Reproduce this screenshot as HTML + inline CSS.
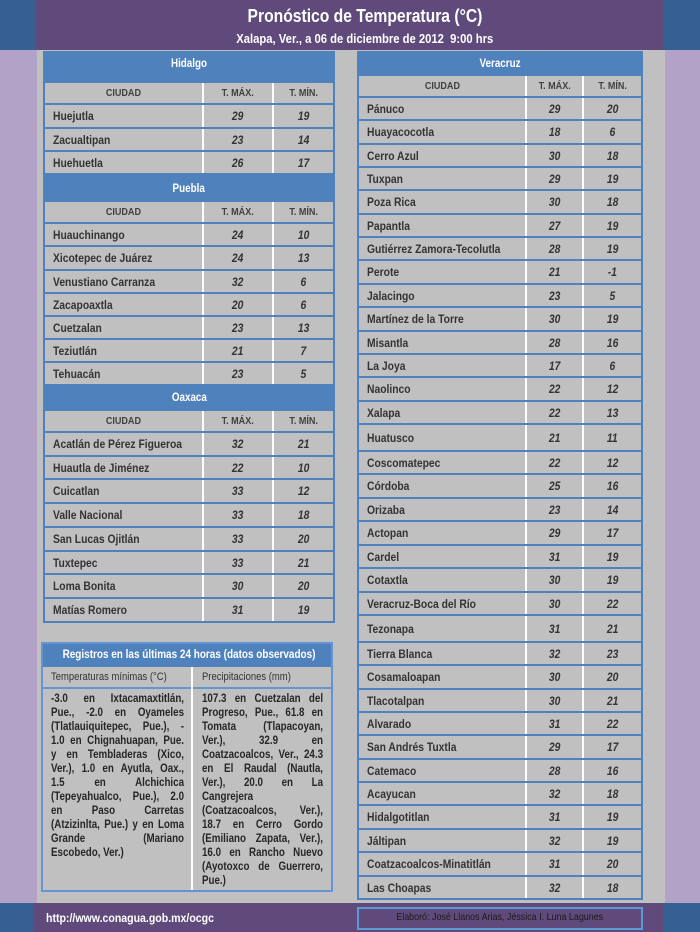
<!DOCTYPE html>
<html><head><meta charset="utf-8">
<style>
*{margin:0;padding:0;box-sizing:border-box}
html,body{width:700px;height:932px;overflow:hidden;background:#c0c0c0;font-family:"Liberation Sans",Arial,sans-serif;position:relative}
.abs{position:absolute}
.tbl{position:absolute;background:#4f81bd}
.tt{position:absolute;left:0;right:0;color:#fff;font-weight:bold;font-size:12px;text-align:center}
.tt span{display:inline-block;transform:scaleX(.82)}
.row{position:absolute;left:2px;right:2px;display:flex;background:#c0c0c0;color:#333;font-weight:bold;font-size:12px}
.row>div{height:100%;display:flex;align-items:center;overflow:visible}
.row span{display:inline-block;transform:scaleX(.86);transform-origin:0 50%;white-space:nowrap}
.row .b,.row .c{justify-content:center;border-left:2px solid #fff;font-style:italic}
.row .b span,.row .c span{transform-origin:50% 50%}
.row .a{padding-left:8px}
.h{font-size:10.5px;color:#404040}
.h .a{padding-left:0;justify-content:center}
.h .b,.h .c{font-style:normal}
.h span{transform:scaleX(.86);transform-origin:50% 50% !important}
.L .a{width:157px}.L .b{width:70px}.L .c{width:61px}
.R .a{width:166px}.R .b{width:57px}.R .c{width:59px}
.jl{font-weight:bold;font-size:11.5px;line-height:14px;color:#262626;text-align:justify;text-align-last:justify}
.jl.n{text-align-last:left}
</style></head><body>
<!-- header -->
<div class="abs" style="left:0;top:0;width:36px;height:50px;background:#366092"></div>
<div class="abs" style="left:36px;top:0;width:627px;height:50px;background:#604a7b"></div>
<div class="abs" style="left:663px;top:0;width:37px;height:50px;background:#366092"></div>
<div class="abs" style="left:65px;top:4px;width:600px;height:24px;text-align:center;color:#fff;font-weight:bold;font-size:18px;line-height:24px"><span style="display:inline-block;transform:scaleX(.87)">Pronóstico de Temperatura (°C)</span></div>
<div class="abs" style="left:65px;top:31px;width:600px;height:16px;text-align:center;color:#fff;font-weight:bold;font-size:12.5px;line-height:16px"><span style="display:inline-block;transform:scaleX(.9);white-space:pre">Xalapa, Ver., a 06 de diciembre de 2012  9:00 hrs</span></div>
<!-- side strips -->
<div class="abs" style="left:0;top:50px;width:37px;height:853px;background:#b3a2c7"></div>
<div class="abs" style="left:665px;top:50px;width:35px;height:853px;background:#b3a2c7"></div>
<!-- footer -->
<div class="abs" style="left:0;top:903px;width:33px;height:29px;background:#366092"></div>
<div class="abs" style="left:33px;top:903px;width:630px;height:29px;background:#604a7b"></div>
<div class="abs" style="left:663px;top:903px;width:37px;height:29px;background:#366092"></div>
<div class="abs" style="left:46px;top:910px;height:16px;line-height:16px;color:#fff;font-weight:bold;font-size:12px"><span style="display:inline-block;transform:scaleX(.88);transform-origin:0 50%">http://www.conagua.gob.mx/ocgc</span></div>
<div class="abs" style="left:357px;top:907px;width:286px;height:23px;border:2px solid #5b9bd5"></div>
<div class="abs" style="left:357px;top:909px;width:286px;height:16px;line-height:16px;text-align:center;color:#1a1a1a;font-size:10.5px"><span style="display:inline-block;transform:scaleX(.85)">Elaboró: José Llanos Arias, Jéssica I. Luna Lagunes</span></div>

<!-- LEFT TABLE -->
<div class="tbl L" style="left:43px;top:51px;width:292px;height:572px">
<div class="tt" style="top:0;height:25px;line-height:25px"><span>Hidalgo</span></div>
<div class="row h" style="top:32px;height:20px"><div class="a"><span>CIUDAD</span></div><div class="b"><span>T. MÁX.</span></div><div class="c"><span>T. MÍN.</span></div></div>
<div class="row" style="top:54px;height:22px"><div class="a"><span>Huejutla</span></div><div class="b"><span>29</span></div><div class="c"><span>19</span></div></div>
<div class="row" style="top:78px;height:21px"><div class="a"><span>Zacualtipan</span></div><div class="b"><span>23</span></div><div class="c"><span>14</span></div></div>
<div class="row" style="top:101px;height:21px"><div class="a"><span>Huehuetla</span></div><div class="b"><span>26</span></div><div class="c"><span>17</span></div></div>
<div class="tt" style="top:125px;height:24px;line-height:24px"><span>Puebla</span></div>
<div class="row h" style="top:151px;height:20px"><div class="a"><span>CIUDAD</span></div><div class="b"><span>T. MÁX.</span></div><div class="c"><span>T. MÍN.</span></div></div>
<div class="row" style="top:173px;height:21px"><div class="a"><span>Huauchinango</span></div><div class="b"><span>24</span></div><div class="c"><span>10</span></div></div>
<div class="row" style="top:196px;height:22px"><div class="a"><span>Xicotepec de Juárez</span></div><div class="b"><span>24</span></div><div class="c"><span>13</span></div></div>
<div class="row" style="top:220px;height:21px"><div class="a"><span>Venustiano Carranza</span></div><div class="b"><span>32</span></div><div class="c"><span>6</span></div></div>
<div class="row" style="top:243px;height:21px"><div class="a"><span>Zacapoaxtla</span></div><div class="b"><span>20</span></div><div class="c"><span>6</span></div></div>
<div class="row" style="top:266px;height:21px"><div class="a"><span>Cuetzalan</span></div><div class="b"><span>23</span></div><div class="c"><span>13</span></div></div>
<div class="row" style="top:289px;height:21px"><div class="a"><span>Teziutlán</span></div><div class="b"><span>21</span></div><div class="c"><span>7</span></div></div>
<div class="row" style="top:312px;height:21px"><div class="a"><span>Tehuacán</span></div><div class="b"><span>23</span></div><div class="c"><span>5</span></div></div>
<div class="tt" style="top:334px;height:25px;line-height:25px"><span>Oaxaca</span></div>
<div class="row h" style="top:360px;height:20px"><div class="a"><span>CIUDAD</span></div><div class="b"><span>T. MÁX.</span></div><div class="c"><span>T. MÍN.</span></div></div>
<div class="row" style="top:382px;height:22px"><div class="a"><span>Acatlán de Pérez Figueroa</span></div><div class="b"><span>32</span></div><div class="c"><span>21</span></div></div>
<div class="row" style="top:406px;height:21px"><div class="a"><span>Huautla de Jiménez</span></div><div class="b"><span>22</span></div><div class="c"><span>10</span></div></div>
<div class="row" style="top:429px;height:22px"><div class="a"><span>Cuicatlan</span></div><div class="b"><span>33</span></div><div class="c"><span>12</span></div></div>
<div class="row" style="top:453px;height:22px"><div class="a"><span>Valle Nacional</span></div><div class="b"><span>33</span></div><div class="c"><span>18</span></div></div>
<div class="row" style="top:477px;height:22px"><div class="a"><span>San Lucas Ojitlán</span></div><div class="b"><span>33</span></div><div class="c"><span>20</span></div></div>
<div class="row" style="top:501px;height:21px"><div class="a"><span>Tuxtepec</span></div><div class="b"><span>33</span></div><div class="c"><span>21</span></div></div>
<div class="row" style="top:524px;height:22px"><div class="a"><span>Loma Bonita</span></div><div class="b"><span>30</span></div><div class="c"><span>20</span></div></div>
<div class="row" style="top:548px;height:22px"><div class="a"><span>Matías Romero</span></div><div class="b"><span>31</span></div><div class="c"><span>19</span></div></div>
</div>

<!-- RIGHT TABLE -->
<div class="tbl R" style="left:357px;top:51px;width:286px;height:849px">
<div class="tt" style="top:0;height:25px;line-height:25px"><span>Veracruz</span></div>
<div class="row h" style="top:25px;height:20px"><div class="a"><span>CIUDAD</span></div><div class="b"><span>T. MÁX.</span></div><div class="c"><span>T. MÍN.</span></div></div>
<div class="row" style="top:47px;height:21px"><div class="a"><span>Pánuco</span></div><div class="b"><span>29</span></div><div class="c"><span>20</span></div></div>
<div class="row" style="top:70px;height:22px"><div class="a"><span>Huayacocotla</span></div><div class="b"><span>18</span></div><div class="c"><span>6</span></div></div>
<div class="row" style="top:94px;height:21px"><div class="a"><span>Cerro Azul</span></div><div class="b"><span>30</span></div><div class="c"><span>18</span></div></div>
<div class="row" style="top:117px;height:21px"><div class="a"><span>Tuxpan</span></div><div class="b"><span>29</span></div><div class="c"><span>19</span></div></div>
<div class="row" style="top:140px;height:22px"><div class="a"><span>Poza Rica</span></div><div class="b"><span>30</span></div><div class="c"><span>18</span></div></div>
<div class="row" style="top:164px;height:21px"><div class="a"><span>Papantla</span></div><div class="b"><span>27</span></div><div class="c"><span>19</span></div></div>
<div class="row" style="top:187px;height:21px"><div class="a"><span>Gutiérrez Zamora-Tecolutla</span></div><div class="b"><span>28</span></div><div class="c"><span>19</span></div></div>
<div class="row" style="top:210px;height:22px"><div class="a"><span>Perote</span></div><div class="b"><span>21</span></div><div class="c"><span>-1</span></div></div>
<div class="row" style="top:234px;height:21px"><div class="a"><span>Jalacingo</span></div><div class="b"><span>23</span></div><div class="c"><span>5</span></div></div>
<div class="row" style="top:257px;height:22px"><div class="a"><span>Martínez de la Torre</span></div><div class="b"><span>30</span></div><div class="c"><span>19</span></div></div>
<div class="row" style="top:281px;height:21px"><div class="a"><span>Misantla</span></div><div class="b"><span>28</span></div><div class="c"><span>16</span></div></div>
<div class="row" style="top:304px;height:21px"><div class="a"><span>La Joya</span></div><div class="b"><span>17</span></div><div class="c"><span>6</span></div></div>
<div class="row" style="top:327px;height:22px"><div class="a"><span>Naolinco</span></div><div class="b"><span>22</span></div><div class="c"><span>12</span></div></div>
<div class="row" style="top:351px;height:21px"><div class="a"><span>Xalapa</span></div><div class="b"><span>22</span></div><div class="c"><span>13</span></div></div>
<div class="row" style="top:374px;height:25px"><div class="a"><span>Huatusco</span></div><div class="b"><span>21</span></div><div class="c"><span>11</span></div></div>
<div class="row" style="top:401px;height:21px"><div class="a"><span>Coscomatepec</span></div><div class="b"><span>22</span></div><div class="c"><span>12</span></div></div>
<div class="row" style="top:424px;height:22px"><div class="a"><span>Córdoba</span></div><div class="b"><span>25</span></div><div class="c"><span>16</span></div></div>
<div class="row" style="top:448px;height:21px"><div class="a"><span>Orizaba</span></div><div class="b"><span>23</span></div><div class="c"><span>14</span></div></div>
<div class="row" style="top:471px;height:22px"><div class="a"><span>Actopan</span></div><div class="b"><span>29</span></div><div class="c"><span>17</span></div></div>
<div class="row" style="top:495px;height:21px"><div class="a"><span>Cardel</span></div><div class="b"><span>31</span></div><div class="c"><span>19</span></div></div>
<div class="row" style="top:518px;height:22px"><div class="a"><span>Cotaxtla</span></div><div class="b"><span>30</span></div><div class="c"><span>19</span></div></div>
<div class="row" style="top:542px;height:21px"><div class="a"><span>Veracruz-Boca del Río</span></div><div class="b"><span>30</span></div><div class="c"><span>22</span></div></div>
<div class="row" style="top:565px;height:25px"><div class="a"><span>Tezonapa</span></div><div class="b"><span>31</span></div><div class="c"><span>21</span></div></div>
<div class="row" style="top:592px;height:21px"><div class="a"><span>Tierra Blanca</span></div><div class="b"><span>32</span></div><div class="c"><span>23</span></div></div>
<div class="row" style="top:615px;height:22px"><div class="a"><span>Cosamaloapan</span></div><div class="b"><span>30</span></div><div class="c"><span>20</span></div></div>
<div class="row" style="top:639px;height:21px"><div class="a"><span>Tlacotalpan</span></div><div class="b"><span>30</span></div><div class="c"><span>21</span></div></div>
<div class="row" style="top:662px;height:21px"><div class="a"><span>Alvarado</span></div><div class="b"><span>31</span></div><div class="c"><span>22</span></div></div>
<div class="row" style="top:685px;height:22px"><div class="a"><span>San Andrés Tuxtla</span></div><div class="b"><span>29</span></div><div class="c"><span>17</span></div></div>
<div class="row" style="top:709px;height:21px"><div class="a"><span>Catemaco</span></div><div class="b"><span>28</span></div><div class="c"><span>16</span></div></div>
<div class="row" style="top:732px;height:21px"><div class="a"><span>Acayucan</span></div><div class="b"><span>32</span></div><div class="c"><span>18</span></div></div>
<div class="row" style="top:755px;height:22px"><div class="a"><span>Hidalgotitlan</span></div><div class="b"><span>31</span></div><div class="c"><span>19</span></div></div>
<div class="row" style="top:779px;height:21px"><div class="a"><span>Jáltipan</span></div><div class="b"><span>32</span></div><div class="c"><span>19</span></div></div>
<div class="row" style="top:802px;height:22px"><div class="a"><span>Coatzacoalcos-Minatitlán</span></div><div class="b"><span>31</span></div><div class="c"><span>20</span></div></div>
<div class="row" style="top:826px;height:21px"><div class="a"><span>Las Choapas</span></div><div class="b"><span>32</span></div><div class="c"><span>18</span></div></div>
</div>

<!-- REGISTROS BOX -->
<div class="abs" style="left:41px;top:642px;width:292px;height:250px;background:#6495d2">
  <div class="abs" style="left:2px;top:2px;width:288px;height:23px;background:#4f81bd;color:#fff;font-weight:bold;font-size:11.5px;line-height:23px;text-align:center"><span style="display:inline-block;transform:scaleX(.866);white-space:nowrap">Registros en las últimas 24 horas (datos observados)</span></div>
  <div class="abs" style="left:2px;top:25px;width:148px;height:20px;background:#c0c0c0;color:#333;font-size:11px;line-height:20px;padding-left:8px"><span style="display:inline-block;transform:scaleX(.86);transform-origin:0 50%;white-space:nowrap">Temperaturas mínimas (°C)</span></div>
  <div class="abs" style="left:152px;top:25px;width:138px;height:20px;background:#c0c0c0;color:#333;font-size:11px;line-height:20px;padding-left:9px"><span style="display:inline-block;transform:scaleX(.86);transform-origin:0 50%;white-space:nowrap">Precipitaciones (mm)</span></div>
  <div class="abs" style="left:150px;top:25px;width:2px;height:223px;background:#fff"></div>
  <div class="abs" style="left:2px;top:47px;width:148px;height:201px;background:#c0c0c0">
    <div class="abs" style="left:8px;top:3px;width:156.5px;transform:scaleX(.85);transform-origin:0 0">
      <div class="jl">-3.0 en Ixtacamaxtitlán,</div>
      <div class="jl">Pue., -2.0 en Oyameles</div>
      <div class="jl">(Tlatlauiquitepec, Pue.), -</div>
      <div class="jl">1.0 en Chignahuapan, Pue.</div>
      <div class="jl">y en Tembladeras (Xico,</div>
      <div class="jl">Ver.), 1.0 en Ayutla, Oax.,</div>
      <div class="jl">1.5 en Alchichica</div>
      <div class="jl">(Tepeyahualco, Pue.), 2.0</div>
      <div class="jl">en Paso Carretas</div>
      <div class="jl">(Atzizinlta, Pue.) y en Loma</div>
      <div class="jl">Grande (Mariano</div>
      <div class="jl n">Escobedo, Ver.)</div>
    </div>
  </div>
  <div class="abs" style="left:152px;top:47px;width:138px;height:201px;background:#c0c0c0">
    <div class="abs" style="left:9px;top:3px;width:142.4px;transform:scaleX(.85);transform-origin:0 0">
      <div class="jl">107.3 en Cuetzalan del</div>
      <div class="jl">Progreso, Pue., 61.8 en</div>
      <div class="jl">Tomata (Tlapacoyan,</div>
      <div class="jl">Ver.), 32.9 en</div>
      <div class="jl">Coatzacoalcos, Ver., 24.3</div>
      <div class="jl">en El Raudal (Nautla,</div>
      <div class="jl">Ver.), 20.0 en La</div>
      <div class="jl n">Cangrejera</div>
      <div class="jl">(Coatzacoalcos, Ver.),</div>
      <div class="jl">18.7 en Cerro Gordo</div>
      <div class="jl">(Emiliano Zapata, Ver.),</div>
      <div class="jl">16.0 en Rancho Nuevo</div>
      <div class="jl">(Ayotoxco de Guerrero,</div>
      <div class="jl n">Pue.)</div>
    </div>
  </div>
</div>
</body></html>
